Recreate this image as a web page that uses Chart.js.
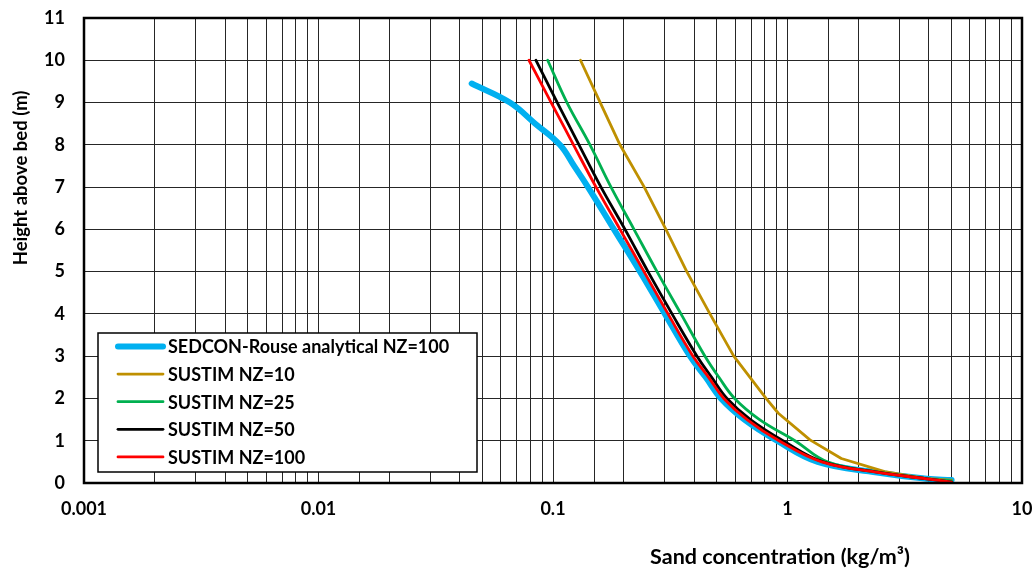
<!DOCTYPE html>
<html>
<head>
<meta charset="utf-8">
<script src="https://cdn.jsdelivr.net/npm/chart.js@4.4.1/dist/chart.umd.min.js"></script>
<style>
    html, body { margin: 0; padding: 0; background: #ffffff; }
    #wrap { width: 1035px; height: 572px; }
</style>
</head>
<body>
<div id="wrap"><canvas id="profileChart" width="1035" height="572"></canvas></div>
<script>
// values (height in m, concentration in kg/m3)
const seriesNames = ['SEDCON-Rouse analytical NZ=100', 'SUSTIM NZ=10', 'SUSTIM NZ=25', 'SUSTIM NZ=50', 'SUSTIM NZ=100'];
const seriesColors = ['#00B0F0', '#BF9000', '#00B050', '#000000', '#FF0000'];

const rouseHeight = [9.45, 9.0, 8.5, 8.0, 7.5, 7.0, 6.0, 5.0, 4.0, 3.0, 2.5, 2.0, 1.5, 1.0, 0.5, 0.25, 0.1, 0.07];
const rouseConc = [0.045, 0.0655, 0.084, 0.107, 0.123, 0.141, 0.182, 0.235, 0.300, 0.384, 0.448, 0.520, 0.655, 0.902, 1.345, 2.41, 3.93, 5.01];

const nz10Height = [10, 9, 8, 7, 6, 5, 4, 3, 2, 1.65, 1.02, 0.58, 0.27, 0.11, 0.07];
const nz10Conc = [0.131, 0.159, 0.193, 0.245, 0.303, 0.372, 0.467, 0.590, 0.810, 0.914, 1.247, 1.696, 2.597, 3.85, 5.01];

const nz25Height = [10, 9, 8, 7, 6, 5, 4, 3, 2.5, 2, 1.5, 1, 0.5, 0.25, 0.1, 0.05];
const nz25Conc = [0.0949, 0.1147, 0.1438, 0.1768, 0.2215, 0.2777, 0.3513, 0.4447, 0.510, 0.595, 0.760, 1.076, 1.48, 2.48, 3.93, 5.01];

const nz50Height = [10, 9, 8, 7, 6, 5, 4, 3, 2.5, 2, 1.5, 1, 0.5, 0.25, 0.1, 0.02];
const nz50Conc = [0.0846, 0.1043, 0.1291, 0.1602, 0.2028, 0.2542, 0.3218, 0.4113, 0.475, 0.552, 0.695, 0.957, 1.42, 2.455, 3.93, 5.01];

const nz100Height = [10, 9, 8, 7, 6, 5, 4, 3, 2.5, 2, 1.5, 1, 0.5, 0.25, 0.1, 0.02];
const nz100Conc = [0.079, 0.0982, 0.1223, 0.1526, 0.1931, 0.2444, 0.3094, 0.3954, 0.461, 0.535, 0.672, 0.920, 1.40, 2.43, 3.92, 5.01];

const xTickValues = [0.001, 0.01, 0.1, 1, 10];
const xTickLabels = ['0.001', '0.01', '0.1', '1', '10'];
const yTickLabels = ['0', '1', '2', '3', '4', '5', '6', '7', '8', '9', '10', '11'];

const xTitle = 'Sand concentration (kg/m\u00B3)';
const yTitle = 'Height above bed (m)';

function toPoints(conc, height) {
    return conc.map((c, i) => ({ x: c, y: height[i] }));
}

Chart.defaults.font.family = 'Lato';
Chart.defaults.font.weight = 'bold';
Chart.defaults.font.size = 18;
Chart.defaults.color = '#000000';

// border round the plot area
const plotFrame = {
    id: 'plotFrame',
    afterDatasetsDraw(chart) {
        const ctx = chart.ctx;
        const a = chart.chartArea;
        ctx.save();
        ctx.strokeStyle = '#000000';
        ctx.lineWidth = 2.5;
        ctx.strokeRect(a.left, a.top, a.right - a.left, a.bottom - a.top);
        ctx.restore();
    }
};

// axis titles, placed like the excel original
const axisTitles = {
    id: 'axisTitles',
    afterDraw(chart) {
        const ctx = chart.ctx;
        const a = chart.chartArea;
        ctx.save();
        ctx.fillStyle = '#000000';
        ctx.textAlign = 'center';
        ctx.textBaseline = 'middle';
        ctx.font = 'bold 21.5px Lato';
        ctx.fillText(xTitle, a.left + (a.right - a.left) * 0.742, 557);
        ctx.font = 'bold 18.5px Lato';
        ctx.translate(21, a.top + (a.bottom - a.top) * 0.344);
        ctx.rotate(-Math.PI / 2);
        ctx.fillText(yTitle, 0, 0);
        ctx.restore();
    }
};

// boxed legend inside the plot, lower left
const boxLegend = {
    id: 'boxLegend',
    afterDraw(chart) {
        const ctx = chart.ctx;
        const a = chart.chartArea;
        const x0 = a.left + 14;
        const y0 = a.top + 315;
        const w = 379;
        const h = 139;
        ctx.save();
        ctx.fillStyle = '#ffffff';
        ctx.fillRect(x0, y0, w, h);
        ctx.strokeStyle = '#000000';
        ctx.lineWidth = 1.5;
        ctx.strokeRect(x0, y0, w, h);
        ctx.font = 'bold 18px Lato';
        ctx.textBaseline = 'middle';
        ctx.textAlign = 'left';
        chart.data.datasets.forEach((ds, i) => {
            const yy = y0 + 13.5 + i * 27.6;
            ctx.beginPath();
            ctx.strokeStyle = ds.borderColor;
            ctx.lineWidth = ds.borderWidth;
            ctx.lineCap = 'round';
            ctx.moveTo(x0 + 20, yy);
            ctx.lineTo(x0 + 65, yy);
            ctx.stroke();
            ctx.fillStyle = '#000000';
            ctx.fillText(ds.label, x0 + 70, yy + 1);
        });
        ctx.restore();
    }
};

const concs = [rouseConc, nz10Conc, nz25Conc, nz50Conc, nz100Conc];
const heights = [rouseHeight, nz10Height, nz25Height, nz50Height, nz100Height];

const datasets = seriesNames.map((name, i) => ({
    label: name,
    data: toPoints(concs[i], heights[i]),
    borderColor: seriesColors[i],
    backgroundColor: seriesColors[i],
    borderWidth: i === 0 ? 6 : 2.8,
    borderCapStyle: 'round',
    borderJoinStyle: 'round',
    pointRadius: 0,
    showLine: true,
    tension: i === 1 ? 0 : 0.4,
    order: 5 - i
}));

new Chart(document.getElementById('profileChart'), {
    type: 'scatter',
    data: { datasets: datasets },
    options: {
        responsive: false,
        animation: false,
        events: [],
        layout: { padding: { top: 18, right: 13, left: 0, bottom: 0 } },
        plugins: {
            legend: { display: false },
            tooltip: { enabled: false }
        },
        scales: {
            x: {
                type: 'logarithmic',
                min: 0.001,
                max: 10,
                afterFit(scale) {
                    scale.height = 89;
                    scale.paddingLeft = 0;
                    scale.paddingRight = 0;
                },
                border: { display: false },
                grid: { color: '#262626', lineWidth: 1, drawTicks: false },
                ticks: {
                    autoSkip: false,
                    maxRotation: 0,
                    padding: 15,
                    callback(value) {
                        const k = xTickValues.findIndex(v => Math.abs(v - value) < v * 1e-6);
                        return k >= 0 ? xTickLabels[k] : '';
                    }
                }
            },
            y: {
                type: 'linear',
                min: 0,
                max: 11,
                afterFit(scale) {
                    scale.width = 84;
                    scale.paddingTop = 0;
                    scale.paddingBottom = 0;
                },
                border: { display: false },
                grid: { color: '#262626', lineWidth: 1, drawTicks: false },
                ticks: {
                    stepSize: 1,
                    padding: 19,
                    callback(value) { return yTickLabels[value]; }
                }
            }
        }
    },
    plugins: [plotFrame, boxLegend, axisTitles]
});
</script>
</body>
</html>
